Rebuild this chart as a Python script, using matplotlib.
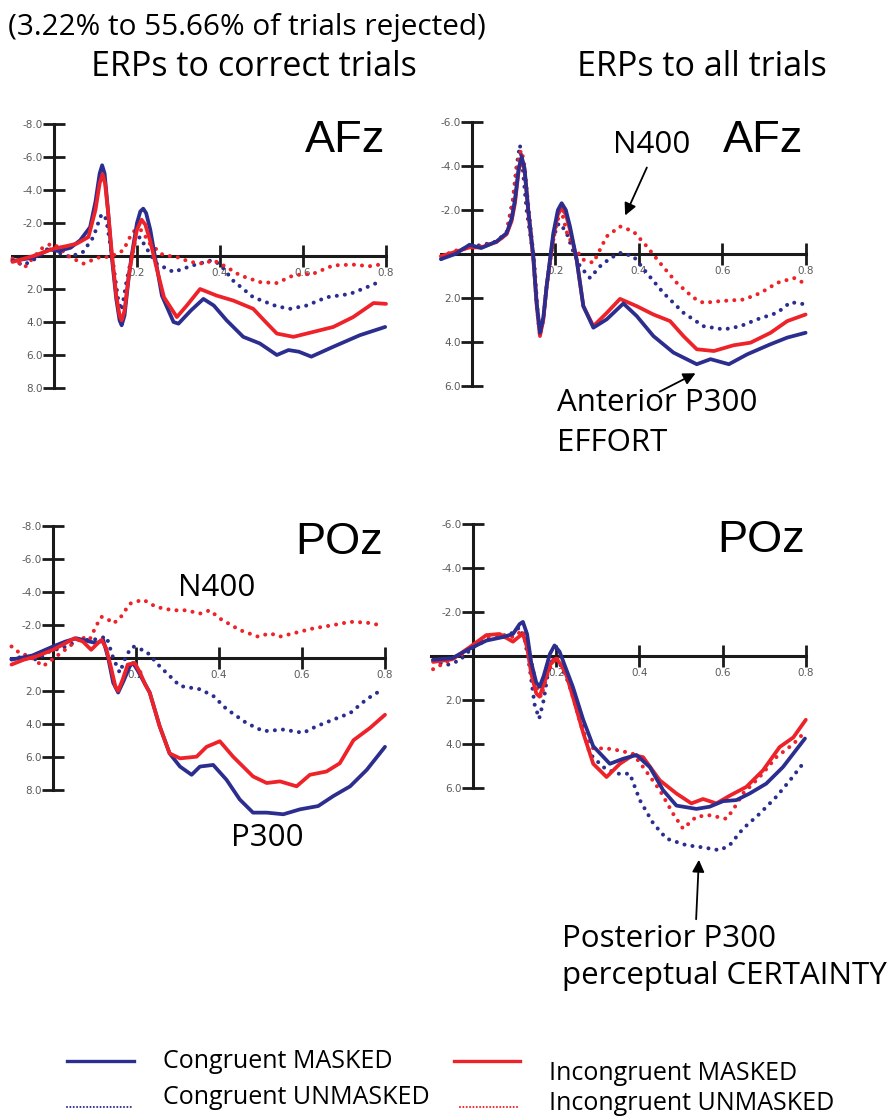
import matplotlib
matplotlib.use("Agg")
import matplotlib.pyplot as plt
from matplotlib.lines import Line2D
from matplotlib.patches import FancyArrowPatch

W, H = 892, 1117
BLUE = '#2b2e8e'
RED = '#ee2229'

# AFz, correct trials
afz_cor_cm_t = [-0.10, -0.05, -0.01, 0.01, 0.04, 0.063, 0.087, 0.100, 0.110, 0.116, 0.122, 0.130, 0.139, 0.150, 0.158, 0.163, 0.170, 0.180, 0.187, 0.200, 0.208, 0.215, 0.222, 0.232, 0.243, 0.260, 0.288, 0.300, 0.330, 0.360, 0.385, 0.416, 0.456, 0.496, 0.537, 0.565, 0.590, 0.620, 0.673, 0.737, 0.798]
afz_cor_cm_v = [0.3, 0.1, -0.4, -0.3, -0.5, -0.95, -1.75, -3.3, -5.0, -5.5, -5.0, -2.8, 0.0, 2.6, 3.9, 4.2, 3.6, 1.3, 0.0, -2.0, -2.7, -2.87, -2.6, -1.6, 0.0, 2.4, 4.0, 4.1, 3.3, 2.6, 3.0, 3.9, 4.9, 5.3, 6.0, 5.7, 5.8, 6.1, 5.5, 4.8, 4.3]
afz_cor_im_t = [-0.10, -0.05, 0.0, 0.03, 0.055, 0.083, 0.100, 0.110, 0.117, 0.123, 0.131, 0.140, 0.150, 0.158, 0.163, 0.170, 0.180, 0.190, 0.200, 0.211, 0.220, 0.232, 0.245, 0.265, 0.296, 0.320, 0.352, 0.392, 0.432, 0.480, 0.510, 0.537, 0.577, 0.625, 0.673, 0.721, 0.770, 0.800]
afz_cor_im_v = [0.36, 0.0, -0.45, -0.6, -0.75, -1.15, -2.8, -4.4, -4.95, -4.4, -2.5, 0.0, 2.4, 3.6, 3.9, 3.3, 1.2, -0.3, -1.6, -2.2, -1.9, -0.9, 0.5, 2.5, 3.7, 3.0, 2.0, 2.4, 2.7, 3.2, 4.0, 4.7, 4.9, 4.6, 4.3, 3.7, 2.85, 2.9]
afz_cor_cu_t = [-0.10, -0.074, -0.04, -0.01, 0.006, 0.038, 0.07, 0.095, 0.112, 0.119, 0.126, 0.140, 0.155, 0.163, 0.175, 0.195, 0.207, 0.222, 0.247, 0.288, 0.336, 0.380, 0.400, 0.432, 0.480, 0.537, 0.569, 0.609, 0.657, 0.713, 0.753, 0.790]
afz_cor_cu_v = [0.26, 0.56, 0.1, -0.55, -0.25, 0.06, -0.25, -1.15, -2.4, -2.55, -2.2, 0.0, 2.7, 3.3, 1.5, -0.85, -1.15, -0.5, 0.46, 0.97, 0.56, 0.26, 0.5, 1.5, 2.5, 3.05, 3.2, 3.0, 2.5, 2.3, 1.9, 1.5]
afz_cor_iu_t = [-0.10, -0.07, -0.03, -0.006, 0.01, 0.038, 0.071, 0.091, 0.111, 0.135, 0.167, 0.187, 0.199, 0.211, 0.231, 0.263, 0.296, 0.328, 0.360, 0.384, 0.416, 0.448, 0.496, 0.537, 0.577, 0.625, 0.673, 0.720, 0.760, 0.800]
afz_cor_iu_v = [0.16, 0.67, -0.45, -0.75, -0.55, 0.06, 0.46, 0.26, 0.06, 0.06, -0.34, -1.35, -1.65, -1.55, -0.75, -0.05, 0.06, 0.36, 0.46, 0.26, 0.67, 1.17, 1.58, 1.64, 1.17, 1.07, 0.57, 0.52, 0.62, 0.46]

# AFz, all trials
afz_all_cm_t = [-0.074, -0.04, -0.006, 0.022, 0.059, 0.083, 0.095, 0.103, 0.112, 0.119, 0.126, 0.135, 0.147, 0.155, 0.163, 0.171, 0.179, 0.195, 0.206, 0.215, 0.225, 0.235, 0.251, 0.267, 0.291, 0.323, 0.363, 0.395, 0.435, 0.483, 0.539, 0.572, 0.616, 0.660, 0.716, 0.756, 0.800]
afz_all_cm_v = [0.23, 0.0, -0.42, -0.27, -0.57, -0.95, -1.6, -2.46, -3.9, -4.42, -3.9, -2.0, 0.1, 2.2, 3.58, 2.9, 1.46, -0.95, -2.0, -2.31, -2.0, -1.25, 0.26, 2.37, 3.35, 2.97, 2.25, 2.82, 3.73, 4.48, 5.01, 4.78, 5.01, 4.56, 4.1, 3.8, 3.58]
afz_all_im_t = [-0.074, -0.04, -0.006, 0.022, 0.059, 0.083, 0.095, 0.103, 0.112, 0.119, 0.126, 0.135, 0.147, 0.155, 0.163, 0.171, 0.179, 0.195, 0.206, 0.215, 0.225, 0.235, 0.251, 0.267, 0.291, 0.323, 0.355, 0.395, 0.435, 0.475, 0.507, 0.539, 0.580, 0.627, 0.668, 0.716, 0.756, 0.800]
afz_all_im_v = [0.1, -0.1, -0.3, -0.3, -0.55, -0.9, -1.5, -2.3, -3.8, -4.35, -3.8, -1.9, 0.2, 2.3, 3.73, 3.0, 1.46, -0.8, -1.8, -2.08, -1.8, -1.1, 0.26, 2.37, 3.28, 2.68, 2.04, 2.37, 2.75, 3.05, 3.73, 4.33, 4.41, 4.15, 4.03, 3.58, 3.05, 2.75]
afz_all_cu_t = [-0.074, -0.04, -0.006, 0.022, 0.059, 0.083, 0.098, 0.107, 0.115, 0.121, 0.131, 0.147, 0.155, 0.161, 0.171, 0.179, 0.195, 0.204, 0.211, 0.227, 0.243, 0.259, 0.283, 0.307, 0.331, 0.355, 0.387, 0.419, 0.459, 0.507, 0.555, 0.604, 0.644, 0.684, 0.732, 0.764, 0.800]
afz_all_cu_v = [0.23, -0.1, -0.35, -0.4, -0.57, -1.0, -2.46, -4.0, -4.95, -4.0, -2.0, 0.1, 2.3, 3.43, 2.9, 1.46, -0.65, -1.3, -1.4, -0.95, -0.1, 0.56, 1.09, 0.56, 0.2, -0.05, 0.1, 0.86, 1.77, 2.67, 3.28, 3.43, 3.28, 2.97, 2.67, 2.19, 2.29]
afz_all_iu_t = [-0.074, -0.04, -0.006, 0.022, 0.059, 0.083, 0.098, 0.107, 0.115, 0.119, 0.126, 0.135, 0.150, 0.157, 0.163, 0.171, 0.179, 0.195, 0.204, 0.211, 0.218, 0.227, 0.243, 0.267, 0.291, 0.323, 0.355, 0.387, 0.419, 0.451, 0.491, 0.531, 0.555, 0.596, 0.652, 0.692, 0.732, 0.772, 0.792]
afz_all_iu_v = [0.1, -0.15, -0.3, -0.35, -0.55, -0.9, -2.4, -3.9, -4.6, -4.72, -4.0, -2.2, 0.5, 2.5, 3.73, 3.0, 1.46, -0.65, -1.5, -1.78, -1.7, -1.0, -0.35, 0.26, 0.4, -0.8, -1.25, -1.03, -0.35, 0.41, 1.31, 1.99, 2.22, 2.14, 2.07, 1.77, 1.31, 1.09, 1.28]

# POz, correct trials
poz_cor_cm_t = [-0.10, -0.05, 0.0, 0.03, 0.056, 0.088, 0.105, 0.121, 0.133, 0.145, 0.157, 0.170, 0.185, 0.193, 0.205, 0.220, 0.233, 0.257, 0.281, 0.306, 0.334, 0.354, 0.386, 0.418, 0.450, 0.482, 0.515, 0.555, 0.595, 0.639, 0.675, 0.716, 0.756, 0.800]
poz_cor_cm_v = [0.1, -0.15, -0.7, -1.0, -1.2, -1.0, -0.9, -1.1, 0.0, 1.5, 2.1, 1.4, 0.5, 0.3, 0.8, 1.5, 2.1, 4.15, 5.8, 6.6, 7.1, 6.6, 6.5, 7.4, 8.6, 9.4, 9.4, 9.5, 9.2, 9.0, 8.4, 7.8, 6.8, 5.4]
poz_cor_im_t = [-0.10, -0.07, -0.04, 0.0, 0.03, 0.052, 0.072, 0.092, 0.108, 0.117, 0.128, 0.140, 0.150, 0.157, 0.168, 0.180, 0.197, 0.210, 0.222, 0.233, 0.257, 0.281, 0.306, 0.346, 0.370, 0.402, 0.434, 0.482, 0.515, 0.547, 0.587, 0.619, 0.659, 0.691, 0.724, 0.764, 0.800]
poz_cor_im_v = [0.4, 0.1, -0.1, -0.5, -0.9, -1.2, -1.0, -0.5, -0.9, -1.1, -0.6, 0.6, 1.7, 2.0, 1.3, 0.4, 0.3, 0.9, 1.6, 2.1, 4.15, 5.8, 6.1, 6.0, 5.4, 5.06, 6.0, 7.2, 7.6, 7.5, 7.8, 7.1, 6.9, 6.4, 5.0, 4.25, 3.45]
poz_cor_cu_t = [-0.10, -0.068, -0.04, -0.008, 0.032, 0.064, 0.096, 0.129, 0.145, 0.161, 0.177, 0.193, 0.225, 0.257, 0.306, 0.354, 0.386, 0.418, 0.466, 0.507, 0.555, 0.603, 0.635, 0.675, 0.716, 0.756, 0.788]
poz_cor_cu_v = [0.06, -0.1, 0.1, -0.4, -0.7, -1.1, -1.1, -1.3, 0.0, 0.9, -0.2, -0.7, -0.4, 0.5, 1.7, 1.9, 2.3, 3.1, 3.95, 4.45, 4.35, 4.55, 4.15, 3.75, 3.35, 2.5, 2.0]
poz_cor_iu_t = [-0.10, -0.08, -0.056, -0.024, 0.008, 0.04, 0.064, 0.088, 0.105, 0.117, 0.130, 0.145, 0.161, 0.185, 0.217, 0.249, 0.289, 0.321, 0.354, 0.378, 0.402, 0.450, 0.494, 0.523, 0.547, 0.579, 0.627, 0.675, 0.716, 0.756, 0.788]
poz_cor_iu_v = [-0.7, -0.3, -0.1, 0.5, -0.1, -0.7, -1.3, -1.1, -2.0, -2.5, -2.4, -2.1, -2.4, -3.3, -3.55, -3.1, -2.9, -2.9, -2.7, -2.9, -2.4, -1.7, -1.3, -1.5, -1.3, -1.5, -1.8, -2.0, -2.2, -2.15, -2.0]

# POz, all trials
poz_all_cm_t = [-0.096, -0.05, -0.008, 0.032, 0.072, 0.096, 0.112, 0.120, 0.130, 0.140, 0.152, 0.160, 0.170, 0.185, 0.196, 0.208, 0.222, 0.240, 0.265, 0.289, 0.329, 0.361, 0.393, 0.425, 0.457, 0.489, 0.537, 0.569, 0.601, 0.633, 0.665, 0.705, 0.745, 0.798]
poz_all_cm_v = [0.17, 0.1, -0.33, -0.7, -0.86, -1.0, -1.45, -1.55, -1.0, 0.3, 1.2, 1.4, 0.9, -0.1, -0.48, -0.2, 0.5, 1.4, 2.9, 4.1, 4.9, 4.67, 4.5, 5.05, 6.1, 6.8, 6.95, 6.85, 6.6, 6.55, 6.25, 5.8, 5.05, 3.75]
poz_all_im_t = [-0.096, -0.05, -0.008, 0.032, 0.064, 0.096, 0.112, 0.120, 0.130, 0.140, 0.152, 0.160, 0.170, 0.185, 0.200, 0.212, 0.225, 0.240, 0.265, 0.289, 0.321, 0.353, 0.385, 0.409, 0.449, 0.489, 0.525, 0.553, 0.585, 0.617, 0.657, 0.697, 0.737, 0.770, 0.800]
poz_all_im_v = [0.27, 0.15, -0.4, -0.95, -1.0, -0.65, -0.9, -1.0, -0.4, 0.8, 1.7, 1.85, 1.3, 0.4, 0.12, 0.4, 0.9, 1.85, 3.5, 4.9, 5.5, 4.9, 4.5, 4.6, 5.65, 6.25, 6.7, 6.5, 6.7, 6.35, 5.95, 5.2, 4.14, 3.7, 2.9]
poz_all_cu_t = [-0.096, -0.064, -0.032, 0.0, 0.04, 0.08, 0.112, 0.125, 0.136, 0.148, 0.159, 0.170, 0.180, 0.192, 0.210, 0.225, 0.248, 0.281, 0.313, 0.345, 0.377, 0.401, 0.433, 0.465, 0.513, 0.553, 0.593, 0.617, 0.649, 0.689, 0.729, 0.762, 0.790]
poz_all_cu_v = [0.2, 0.42, 0.2, -0.4, -0.79, -0.86, -1.3, -0.7, 0.5, 2.2, 2.85, 2.0, 0.8, 0.05, 0.4, 1.0, 2.2, 4.45, 5.05, 5.35, 5.35, 6.55, 7.6, 8.3, 8.6, 8.7, 8.83, 8.6, 7.85, 7.17, 6.4, 5.65, 4.97]
poz_all_iu_t = [-0.096, -0.064, -0.024, 0.004, 0.032, 0.064, 0.096, 0.120, 0.136, 0.152, 0.164, 0.176, 0.196, 0.212, 0.225, 0.240, 0.265, 0.289, 0.321, 0.353, 0.385, 0.409, 0.449, 0.481, 0.505, 0.537, 0.569, 0.609, 0.625, 0.649, 0.689, 0.729, 0.770, 0.794]
poz_all_iu_v = [0.6, 0.27, -0.1, -0.56, -0.86, -1.0, -0.86, -1.17, -0.2, 1.4, 1.86, 1.0, 0.0, 0.3, 0.9, 1.85, 3.5, 4.2, 4.2, 4.3, 4.45, 5.05, 6.1, 7.17, 7.85, 7.3, 7.24, 7.4, 7.0, 6.25, 5.5, 4.6, 4.0, 3.53]

x_ticks = [0.2, 0.4, 0.6, 0.8]
y_ticks_8 = [-8, -6, -4, -2, 2, 4, 6, 8]
y_ticks_6 = [-6, -4, -2, 2, 4, 6]

legend_labels = ['Congruent MASKED', 'Congruent UNMASKED',
                 'Incongruent MASKED', 'Incongruent UNMASKED']

TEXT_FONT = ['Open Sans', 'DejaVu Sans']
LABEL_FONT = ['Liberation Sans', 'DejaVu Sans']


def fpos(x, y):
    return x / W, 1 - y / H


def make_panel(fig, t0_px, zero_px, px_s, px_uv, ymax, tstart):
    xlo, xhi = -0.12, 0.83
    ylo, yhi = -ymax - 0.6, 10.6
    left = (t0_px + xlo * px_s) / W
    width = (xhi - xlo) * px_s / W
    top_px = zero_px + ylo * px_uv
    bot_px = zero_px + yhi * px_uv
    ax = fig.add_axes([left, 1 - bot_px / H, width, (bot_px - top_px) / H])
    ax.set_xlim(xlo, xhi)
    ax.set_ylim(yhi, ylo)
    ax.patch.set_visible(False)
    for s in ['top', 'right']:
        ax.spines[s].set_visible(False)
    ax.spines['left'].set_position(('data', 0))
    ax.spines['bottom'].set_position(('data', 0))
    ax.spines['left'].set_bounds(-ymax, ymax)
    ax.spines['bottom'].set_bounds(tstart, 0.8)
    for s in ['left', 'bottom']:
        ax.spines[s].set_linewidth(2.2)
        ax.spines[s].set_color('#1a1a1a')
    yt = y_ticks_8 if ymax == 8 else y_ticks_6
    ax.set_yticks(yt)
    ax.set_yticklabels(['%.1f' % v for v in yt])
    ax.set_xticks(x_ticks)
    ax.set_xticklabels(['%.1f' % v for v in x_ticks])
    ax.tick_params(direction='inout', length=16, width=2.0, color='#1a1a1a',
                   labelsize=7.5, labelcolor='#5a5a5a')
    ax.tick_params(axis='y', pad=0)
    ax.tick_params(axis='x', pad=1)
    return ax


def draw(ax, t, v, color, dotted, z):
    if dotted:
        ax.plot(t, v, color=color, lw=2.9, linestyle=(0, (0.01, 2.0)),
                dash_capstyle='round', zorder=z, clip_on=False)
    else:
        ax.plot(t, v, color=color, lw=2.7, solid_joinstyle='round',
                solid_capstyle='round', zorder=z, clip_on=False)


fig = plt.figure(figsize=(W / 100, H / 100), dpi=100)

ax1 = make_panel(fig, 54, 256, 415, 16.5, 8, -0.1)
draw(ax1, afz_cor_cu_t, afz_cor_cu_v, BLUE, True, 3)
draw(ax1, afz_cor_iu_t, afz_cor_iu_v, RED, True, 3)
draw(ax1, afz_cor_cm_t, afz_cor_cm_v, BLUE, False, 4)
draw(ax1, afz_cor_im_t, afz_cor_im_v, RED, False, 5)

ax2 = make_panel(fig, 472, 254, 417, 22, 6, -0.074)
draw(ax2, afz_all_cu_t, afz_all_cu_v, BLUE, True, 3)
draw(ax2, afz_all_iu_t, afz_all_iu_v, RED, True, 3)
draw(ax2, afz_all_im_t, afz_all_im_v, RED, False, 4)
draw(ax2, afz_all_cm_t, afz_all_cm_v, BLUE, False, 5)

ax3 = make_panel(fig, 53, 658, 415, 16.45, 8, -0.1)
draw(ax3, poz_cor_cu_t, poz_cor_cu_v, BLUE, True, 3)
draw(ax3, poz_cor_iu_t, poz_cor_iu_v, RED, True, 3)
draw(ax3, poz_cor_cm_t, poz_cor_cm_v, BLUE, False, 4)
draw(ax3, poz_cor_im_t, poz_cor_im_v, RED, False, 5)

ax4 = make_panel(fig, 473, 656, 416, 22, 6, -0.1)
draw(ax4, poz_all_cu_t, poz_all_cu_v, BLUE, True, 3)
draw(ax4, poz_all_iu_t, poz_all_iu_v, RED, True, 3)
draw(ax4, poz_all_im_t, poz_all_im_v, RED, False, 4)
draw(ax4, poz_all_cm_t, poz_all_cm_v, BLUE, False, 5)

# headings
fig.text(*fpos(8, 28), '(3.22% to 55.66% of trials rejected)', family=TEXT_FONT,
         fontsize=21.4, va='center', ha='left')
fig.text(*fpos(254, 67), 'ERPs to correct trials', family=TEXT_FONT,
         fontsize=24.5, va='center', ha='center')
fig.text(*fpos(702, 67), 'ERPs to all trials', family=TEXT_FONT,
         fontsize=24.5, va='center', ha='center')

# electrode names
for x, y, name in [(385, 140, 'AFz'), (803, 140, 'AFz'),
                   (383, 542, 'POz'), (805, 540, 'POz')]:
    fig.text(*fpos(x, y), name, family=LABEL_FONT, fontsize=32.5,
             ha='right', va='center')

# component labels
ANN = 22.5
fig.text(*fpos(652, 145), 'N400', family=TEXT_FONT, fontsize=ANN, ha='center', va='center')
fig.text(*fpos(217, 588), 'N400', family=TEXT_FONT, fontsize=ANN, ha='center', va='center')
fig.text(*fpos(267, 838), 'P300', family=TEXT_FONT, fontsize=ANN, ha='center', va='center')
fig.text(*fpos(557, 403), 'Anterior P300', family=TEXT_FONT, fontsize=ANN, ha='left', va='center')
fig.text(*fpos(557, 443), 'EFFORT', family=TEXT_FONT, fontsize=ANN, ha='left', va='center')
fig.text(*fpos(562, 939), 'Posterior P300', family=TEXT_FONT, fontsize=ANN, ha='left', va='center')
fig.text(*fpos(562, 976), 'perceptual CERTAINTY', family=TEXT_FONT, fontsize=ANN, ha='left', va='center')

for a, b in [((648, 165), (624, 218)), ((657, 393), (698, 372)),
             ((696, 922), (699, 857))]:
    fig.add_artist(FancyArrowPatch(fpos(*a), fpos(*b), transform=fig.transFigure,
                                   arrowstyle='-|>', mutation_scale=18,
                                   lw=1.3, color='black'))

# legend
legend_rows = [((67, 134), 1061, 1061, BLUE, False, 0),
               ((67, 132), 1107, 1098, BLUE, True, 1),
               ((454, 520), 1061, 1073, RED, False, 2),
               ((460, 520), 1107, 1103, RED, True, 3)]
for (x0, x1), ly, ty, col, dotted, i in legend_rows:
    a, b = fpos(x0, ly), fpos(x1, ly)
    if dotted:
        ln = Line2D([a[0], b[0]], [a[1], b[1]], transform=fig.transFigure,
                    color=col, lw=1.5, linestyle=(0, (0.01, 1.6)),
                    dash_capstyle='round')
    else:
        ln = Line2D([a[0], b[0]], [a[1], b[1]], transform=fig.transFigure,
                    color=col, lw=2.4)
    fig.add_artist(ln)
    tx = 163 if i < 2 else 549
    fig.text(*fpos(tx, ty), legend_labels[i], family=TEXT_FONT, fontsize=18,
             ha='left', va='center')

fig.savefig('out.png', dpi=100)
